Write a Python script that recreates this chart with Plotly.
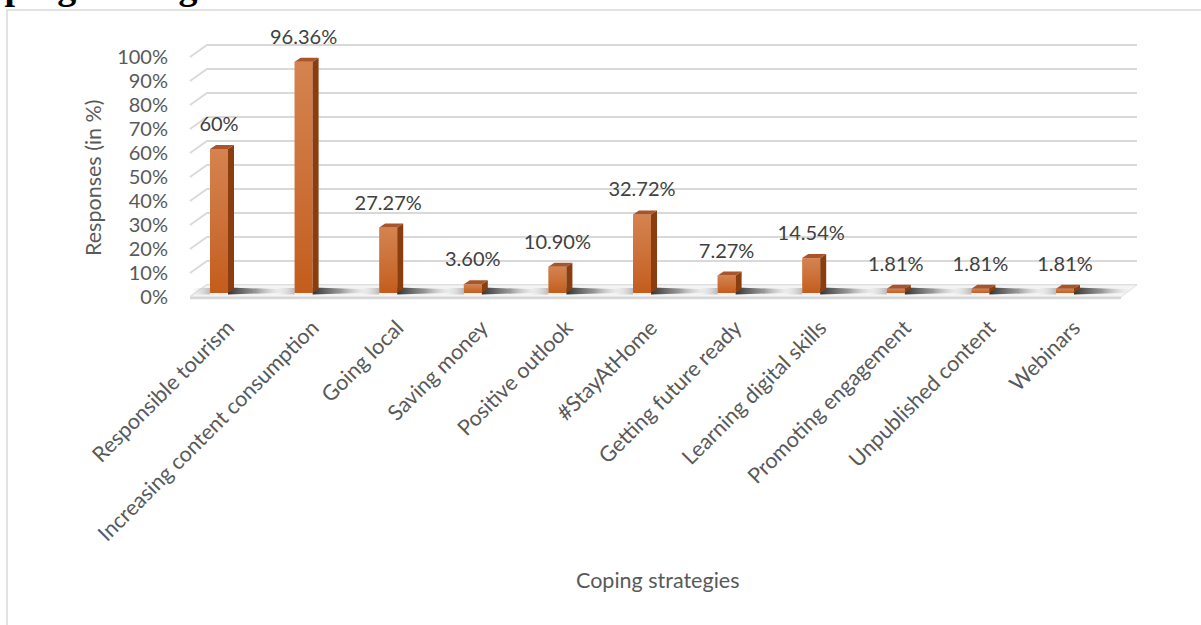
import plotly.graph_objects as go

# ---------------- data ----------------
categories = ["Responsible tourism", "Increasing content consumption", "Going local",
              "Saving money", "Positive outlook", "#StayAtHome", "Getting future ready",
              "Learning digital skills", "Promoting engagement", "Unpublished content",
              "Webinars"]
values = [60, 96.36, 27.27, 3.60, 10.90, 32.72, 7.27, 14.54, 1.81, 1.81, 1.81]
value_labels = ["60%", "96.36%", "27.27%", "3.60%", "10.90%", "32.72%", "7.27%",
                "14.54%", "1.81%", "1.81%", "1.81%"]
y_ticks = [0, 10, 20, 30, 40, 50, 60, 70, 80, 90, 100]
y_title = "Responses (in %)"
x_title = "Coping strategies"
heading = "Coping strategies"

# ---------------- geometry (pixel layout of the 3-D look) ----------------
W, H = 1201, 625
X0, DX = 219.0, 84.6     # pixel of first category, pixels per category
Y0, DY = 293.0, 2.4      # pixel of value 0 (bars), pixels per percent


def ux(px):  # pixel offset -> x data units
    return px / DX


def uy(px):  # pixel offset -> y data units
    return px / DY


def dx_(px):  # absolute pixel -> x data
    return (px - X0) / DX


xr = [dx_(0), dx_(W)]
yr = [(Y0 - H) / DY, Y0 / DY]

FRONT_C = "#C45C1C"
SIDE_C = "#8A3E10"
TOP_C = "#A9552B"
GRID_C = "#D9D9D9"
TXT = "#595959"
FONT = "Lato"

idx = list(range(len(categories)))
half_w = ux(9)
dep_x, dep_y = ux(6), uy(4)

fig = go.Figure()

# ---- base layer (x/y): gridlines, floor, shadows ----
gx, gy = [], []
for t in y_ticks:
    vf = t - uy(4)          # front (label) level
    vb = t + uy(8)          # back wall level
    gx += [dx_(190), dx_(207), dx_(1137), None]
    gy += [vf, vb, vb, None]
fig.add_trace(go.Scatter(x=gx, y=gy, mode="lines", line=dict(color=GRID_C, width=1.8),
                         hoverinfo="skip", showlegend=False))

fl_x = [dx_(190), dx_(207), dx_(1137), dx_(1121), dx_(190)]
fl_y = [-uy(4), uy(8), uy(8), -uy(4), -uy(4)]
fig.add_trace(go.Scatter(x=fl_x, y=fl_y, mode="lines", fill="toself",
                         fillcolor="#F4F4F4", line=dict(color="#E3E3E3", width=1),
                         hoverinfo="skip", showlegend=False))
fig.add_trace(go.Scatter(x=[dx_(190), dx_(1121)], y=[-uy(5), -uy(5)], mode="lines",
                         line=dict(color="#D6D6D6", width=2.5),
                         hoverinfo="skip", showlegend=False))

for i in idx:
    x_r = i + half_w
    sx = [x_r, x_r + ux(62), x_r + ux(62), x_r, x_r]
    sy = [uy(5.5), uy(3.5), uy(0.5), -uy(1.5), uy(5.5)]
    fig.add_trace(go.Scatter(
        x=sx, y=sy, mode="lines", fill="toself", line=dict(width=0),
        fillgradient=dict(type="horizontal",
                          colorscale=[[0, "rgba(40,40,40,0.95)"], [0.45, "rgba(90,90,90,0.6)"],
                                      [1, "rgba(255,255,255,0)"]]),
        hoverinfo="skip", showlegend=False))
    lx = [i - half_w - ux(18), i - half_w, i - half_w, i - half_w - ux(18), i - half_w - ux(18)]
    ly = [uy(5), uy(5), -uy(1.5), -uy(1.5), uy(5)]
    fig.add_trace(go.Scatter(
        x=lx, y=ly, mode="lines", fill="toself", line=dict(width=0),
        fillgradient=dict(type="horizontal",
                          colorscale=[[0, "rgba(200,200,200,0)"], [1, "rgba(150,150,150,0.6)"]]),
        hoverinfo="skip", showlegend=False))

# ---- overlay layer (x3/y3): bars and their 3-D faces, data labels ----
fig.add_trace(go.Bar(x=idx, y=values, width=2 * half_w,
                     marker=dict(color=FRONT_C, line=dict(width=0)),
                     xaxis="x3", yaxis="y3", hoverinfo="skip", showlegend=False))

for i, v in zip(idx, values):
    r = i + half_w
    l = i - half_w
    # soft light gradient on the front face (lighter towards the top)
    fig.add_trace(go.Scatter(x=[l, r, r, l, l], y=[0, 0, v, v, 0], mode="lines", fill="toself",
                             line=dict(width=0),
                             fillgradient=dict(type="vertical",
                                               colorscale=[[0, "rgba(255,255,255,0)"],
                                                           [1, "rgba(255,230,210,0.28)"]]),
                             xaxis="x3", yaxis="y3", hoverinfo="skip", showlegend=False))
    fig.add_trace(go.Scatter(x=[r, r + dep_x, r + dep_x, r, r], y=[0, dep_y, v + dep_y, v, 0],
                             mode="lines", fill="toself", fillcolor=SIDE_C, line=dict(width=0),
                             xaxis="x3", yaxis="y3", hoverinfo="skip", showlegend=False))
    fig.add_trace(go.Scatter(x=[l, l + dep_x, r + dep_x, r, l], y=[v, v + dep_y, v + dep_y, v, v],
                             mode="lines", fill="toself", fillcolor=TOP_C, line=dict(width=0),
                             xaxis="x3", yaxis="y3", hoverinfo="skip", showlegend=False))

fig.add_trace(go.Scatter(x=idx, y=[v + uy(23) for v in values], mode="text", text=value_labels,
                         textposition="middle center",
                         textfont=dict(family=FONT, size=20, color="#404040"),
                         xaxis="x3", yaxis="y3", hoverinfo="skip", showlegend=False))

# dummy trace so the tick-label axes are drawn
fig.add_trace(go.Scatter(x=[None], y=[None], xaxis="x2", yaxis="y2", showlegend=False,
                         hoverinfo="skip"))

LBL = 21.5
fig.update_layout(
    width=W, height=H, margin=dict(l=0, r=0, t=0, b=0),
    paper_bgcolor="white", plot_bgcolor="white",
    xaxis=dict(range=xr, visible=False, fixedrange=True),
    yaxis=dict(range=yr, visible=False, fixedrange=True),
    xaxis3=dict(range=xr, overlaying="x", visible=False, fixedrange=True),
    yaxis3=dict(range=yr, overlaying="y", visible=False, fixedrange=True),
    xaxis2=dict(range=[xr[0] - ux(9), xr[1] - ux(9)], overlaying="x", anchor="free",
                position=1 - 310 / H,
                tickmode="array", tickvals=idx, ticktext=categories, tickangle=-45,
                showgrid=False, zeroline=False, showline=False, ticks="",
                tickfont=dict(family=FONT, size=LBL, color=TXT), automargin=False),
    yaxis2=dict(range=[(297 - H) / DY, 297 / DY], overlaying="y", anchor="free",
                position=168 / W, side="left",
                tickmode="array", tickvals=y_ticks, ticktext=[f"{t}%" for t in y_ticks],
                showgrid=False, zeroline=False, showline=False, ticks="",
                tickfont=dict(family=FONT, size=20, color=TXT), automargin=False),
    shapes=[dict(type="path", xref="paper", yref="paper",
                 path=f"M {7 / W},0 L {7 / W},{1 - 10 / H} L 1.01,{1 - 10 / H}",
                 line=dict(color="#D9D9D9", width=1.5))],
    annotations=[
        dict(text=y_title, xref="paper", yref="paper", x=93 / W, y=1 - 178 / H,
             textangle=-90, showarrow=False, xanchor="center", yanchor="middle",
             font=dict(family=FONT, size=LBL, color=TXT)),
        dict(text=x_title, xref="paper", yref="paper", x=657 / W, y=1 - 580 / H,
             showarrow=False, xanchor="center", yanchor="middle",
             font=dict(family=FONT, size=LBL, color=TXT)),
        dict(text=f"<b>{heading}</b>", xref="paper", yref="paper", x=-44 / W, y=1 - 9 / H,
             showarrow=False, xanchor="left", yanchor="bottom",
             font=dict(family="Liberation Serif", size=38, color="black")),
    ],
)

fig.write_html("out.html")
